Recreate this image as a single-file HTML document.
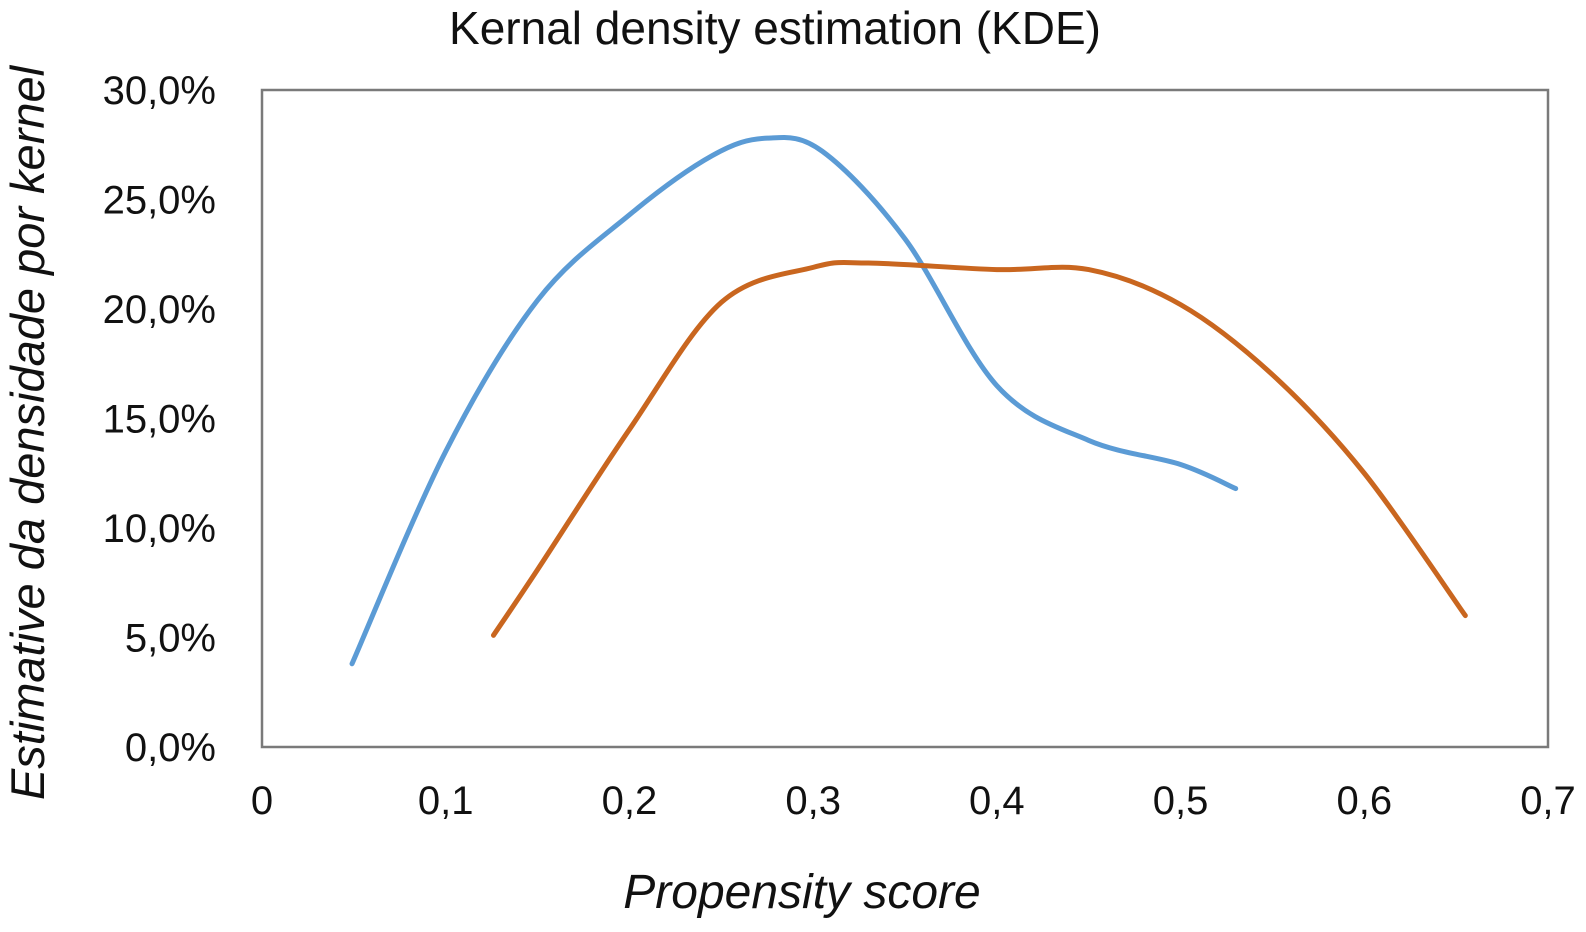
<!DOCTYPE html>
<html><head><meta charset="utf-8"><style>
body{margin:0;background:#fff;}
svg{display:block;font-family:"Liberation Sans",sans-serif;}
</style></head><body>
<svg id="chart" width="1586" height="932">
<text x="775" y="44" font-size="46" text-anchor="middle" fill="#111">Kernal density estimation (KDE)</text>
<rect x="262" y="90" width="1286" height="657" fill="none" stroke="#7a7a7a" stroke-width="2.5"/>
<g id="yt"></g>
<g id="xt"></g>
<g id="lines"></g>
<text x="802" y="908" font-size="48" font-style="italic" text-anchor="middle" fill="#111">Propensity score</text>
<text transform="translate(44,433) rotate(-90)" font-size="47" font-style="italic" text-anchor="middle" fill="#111">Estimative da densidade por kernel</text>
</svg>
<script>
const yTicks=[0,5,10,15,20,25,30];
const yTickLabels=["0,0%","5,0%","10,0%","15,0%","20,0%","25,0%","30,0%"];
const xTicks=[0,0.1,0.2,0.3,0.4,0.5,0.6,0.7];
const xTickLabels=["0","0,1","0,2","0,3","0,4","0,5","0,6","0,7"];
const blueX=[0.049,0.1,0.15,0.2,0.245,0.275,0.305,0.35,0.4,0.45,0.5,0.53];
const blueY=[3.8,13.5,20.4,24.3,27.0,27.8,27.2,23.2,16.5,14.0,12.9,11.8];
const orangeX=[0.126,0.15,0.2,0.25,0.3,0.33,0.4,0.45,0.5,0.55,0.6,0.655];
const orangeY=[5.1,8.1,14.5,20.3,21.9,22.1,21.8,21.8,20.2,17.0,12.5,6.0];
const X=v=>262+v/0.7*1286, Y=v=>747-v/30*657;
const NS="http://www.w3.org/2000/svg";
const yt=document.getElementById('yt'),xt=document.getElementById('xt'),lg=document.getElementById('lines');
yTicks.forEach((t,i)=>{const e=document.createElementNS(NS,'text');


e.setAttribute('x',216);e.setAttribute('y',Y(t)+14);e.setAttribute('font-size',40);e.setAttribute('text-anchor','end');e.setAttribute('fill','#111');e.textContent=yTickLabels[i];yt.appendChild(e);});
xTicks.forEach((t,i)=>{const e=document.createElementNS(NS,'text');


e.setAttribute('x',X(t));e.setAttribute('y',814);e.setAttribute('font-size',40);e.setAttribute('text-anchor','middle');e.setAttribute('fill','#111');e.textContent=xTickLabels[i];xt.appendChild(e);});
function path(xs,ys){const p=xs.map((x,i)=>[X(x),Y(ys[i])]);let d=`M${p[0][0]},${p[0][1]}`;
for(let i=0;i<p.length-1;i++){const p0=p[Math.max(i-1,0)],p1=p[i],p2=p[i+1],p3=p[Math.min(i+2,p.length-1)];
d+=` C${p1[0]+(p2[0]-p0[0])/6},${p1[1]+(p2[1]-p0[1])/6} ${p2[0]-(p3[0]-p1[0])/6},${p2[1]-(p3[1]-p1[1])/6} ${p2[0]},${p2[1]}`;}return d;}
[[blueX,blueY,'#5b9bd5','blue-series-line'],[orangeX,orangeY,'#c9661f','orange-series-line']].forEach(s=>{const e=document.createElementNS(NS,'path');


e.setAttribute('d',path(s[0],s[1]));e.setAttribute('fill','none');e.setAttribute('stroke',s[2]);e.setAttribute('stroke-width',5);e.setAttribute('stroke-linecap','round');lg.appendChild(e);});
</script>
</body></html>
